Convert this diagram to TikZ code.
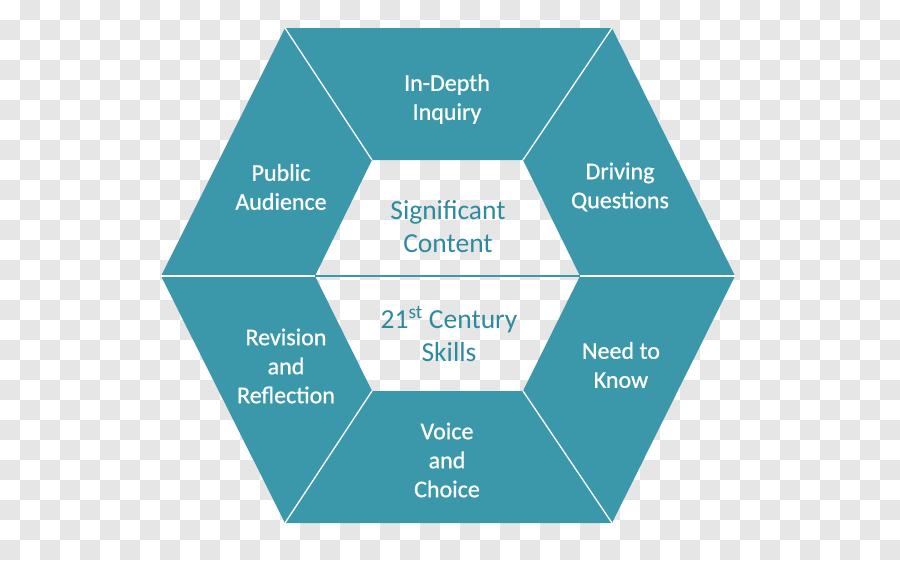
\documentclass[tikz,border=0pt]{standalone}
\usepackage{fontspec}
\setmainfont{Carlito}
\newfontfamily\outfont[FakeBold=0.8]{Carlito}
\definecolor{tealA}{RGB}{59,151,170}
\definecolor{tealT}{RGB}{46,138,158}
\definecolor{chk}{RGB}{230,230,230}
\tikzset{
  outtext/.style={text=white, align=center, font=\outfont\fontsize{24}{29}\selectfont, inner sep=0pt},
  intext/.style={text=tealT, align=center, font=\fontsize{27.5}{33}\selectfont, inner sep=0pt},
  sepline/.style={draw=white, line width=1.3pt}
}
\begin{document}
\begin{tikzpicture}[x=1pt,y=-1pt]
\useasboundingbox (0,0) rectangle (900,560);
% checkerboard background
\foreach \j in {0,2,...,26}{
  \foreach \i in {1,3,...,43}{
    \fill[chk] (\i*20,\j*20) rectangle ++(20,20);
  }
}
\foreach \j in {1,3,...,27}{
  \foreach \i in {0,2,...,44}{
    \fill[chk] (\i*20,\j*20) rectangle ++(20,20);
  }
}
% hexagon vertices
\coordinate (O1) at (285,28);
\coordinate (O2) at (612,28);
\coordinate (O3) at (735,276);
\coordinate (O4) at (612,523);
\coordinate (O5) at (285,523);
\coordinate (O6) at (161,276);
\coordinate (I1) at (372,160);
\coordinate (I2) at (523,160);
\coordinate (I3) at (580,276);
\coordinate (I4) at (523,391);
\coordinate (I5) at (372,391);
\coordinate (I6) at (315,276);
\fill[tealA, even odd rule] (O1) -- (O2) -- (O3) -- (O4) -- (O5) -- (O6) -- cycle
  (I1) -- (I2) -- (I3) -- (I4) -- (I5) -- (I6) -- cycle;
\foreach \k in {1,...,6}{ \draw[sepline] (O\k) -- (I\k); }
\draw[tealA, line width=1.5pt] (I6) -- (I3);
% texts
\node[outtext] (t1) at (447,99) {In-Depth\\Inquiry};
\node[outtext] (t2) at (281,187) {Public\\Audience};
\node[outtext] (t3) at (620,187) {Driving\\Questions};
\node[outtext] (t4) at (286,366) {Revision\\and\\Reflection};
\node[outtext] (t5) at (621,365) {Need to\\Know};
\node[outtext] (t6) at (447,460) {Voice\\and\\Choice};
\node[intext] (c1) at (448,227) {Significant\\Content};
\node[intext] (c2) at (449,334) {21\textsuperscript{st} Century\\Skills};
\end{tikzpicture}
\end{document}
